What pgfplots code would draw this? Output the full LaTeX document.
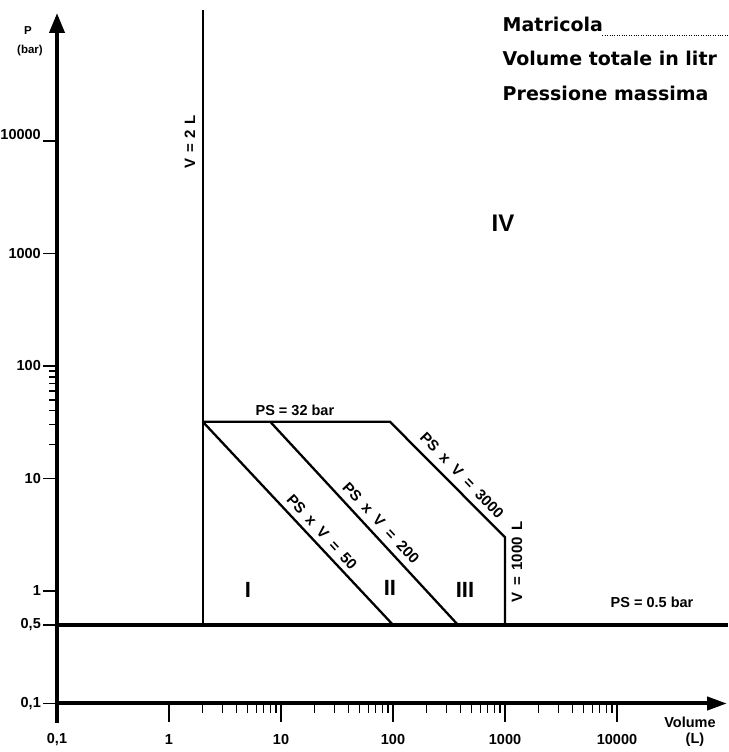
\documentclass[border=0pt]{standalone}
\usepackage{fontspec}
\setmainfont{Liberation Sans}
\newfontfamily\hdr{DejaVu Sans}
\usepackage{pgfplots}
\pgfplotsset{compat=1.18}
\usetikzlibrary{arrows.meta}
\newcommand\lab{\fontsize{14.5}{17}\selectfont\bfseries}
\newcommand\dlab{\fontsize{15}{17}\selectfont\bfseries}
\newcommand\reg{\fontsize{22}{26}\selectfont\bfseries}
\begin{document}
\begin{tikzpicture}
\begin{axis}[name=ax, at={(0,0)}, anchor=south west, scale only axis,
  width=728pt, height=752pt, xmode=log, ymode=log,
  xmin=0.030977, xmax=97965, ymin=0.037059, ymax=179196,
  hide axis, clip=false]
% axes
\draw[line width=4pt] (axis cs:0.1,0.0671) -- (axis cs:0.1,0.12);
\draw[line width=4pt, -{Triangle[length=20pt,width=15pt]}] (axis cs:0.1,0.1) -- (axis cs:0.1,137300);
\draw[line width=4pt, -{Triangle[length=20pt,width=13pt]}] (axis cs:0.1,0.1) -- (axis cs:96000,0.1);
% x ticks
\pgfplotsinvokeforeach{1,10,100,1000,10000}{\draw[line width=1.5pt] (axis cs:#1,0.1) -- (axis cs:#1,0.0685);}
\pgfplotsinvokeforeach{2,3,4,5,6,7,8,9,20,30,40,50,60,70,80,90,200,300,400,500,600,700,800,900,2000,3000,4000,5000,6000,7000,8000,9000}{\draw[line width=1.3pt] (axis cs:#1,0.1) -- (axis cs:#1,0.0823);}
% y ticks
\pgfplotsinvokeforeach{0.1,0.5,1,10,100,1000,10000}{\draw[line width=1.5pt] (axis cs:0.1,#1) -- (axis cs:0.075,#1);}
\pgfplotsinvokeforeach{20,30,40,50,60,70,80,90}{\draw[line width=1.3pt] (axis cs:0.1,#1) -- (axis cs:0.0848,#1);}
% x tick labels
\node[font=\lab] at (axis cs:0.1,0.04738) {0,1};
\node[font=\lab] at (axis cs:1,0.04738) {1};
\node[font=\lab] at (axis cs:10,0.04738) {10};
\node[font=\lab] at (axis cs:100,0.04738) {100};
\node[font=\lab] at (axis cs:1000,0.04738) {1000};
\node[font=\lab] at (axis cs:10000,0.04738) {10000};
\node[font=\lab] at (axis cs:44870,0.0685) {Volume};
\node[font=\lab] at (axis cs:49700,0.04738) {(L)};
% y tick labels
\node[font=\lab, anchor=east, inner sep=0pt] at (axis cs:0.072,0.1) {0,1};
\node[font=\lab, anchor=east, inner sep=0pt] at (axis cs:0.072,0.5) {0,5};
\node[font=\lab, anchor=east, inner sep=0pt] at (axis cs:0.072,1) {1};
\node[font=\lab, anchor=east, inner sep=0pt] at (axis cs:0.072,10) {10};
\node[font=\lab, anchor=east, inner sep=0pt] at (axis cs:0.072,100) {100};
\node[font=\lab, anchor=east, inner sep=0pt] at (axis cs:0.072,1000) {1000};
\node[font=\lab, anchor=east, inner sep=0pt] at (axis cs:0.072,11500) {10000};
\node[font=\fontsize{11.5}{13}\selectfont\bfseries] at (axis cs:0.0551,95060) {P};
\node[font=\fontsize{11.5}{13}\selectfont\bfseries] at (axis cs:0.0574,63096) {(bar)};
% diagram lines
\addplot[line width=4.5pt] coordinates {(0.1,0.5) (97965,0.5)};
\addplot[line width=2.3pt] coordinates {(2,145900) (2,0.5)};
\addplot[line width=2.3pt] coordinates {(2,32) (93.75,32) (1000,3) (1000,0.5)};
\addplot[line width=2.3pt] coordinates {(2,32) (100,0.5)};
\addplot[line width=2.3pt] coordinates {(8,32) (380,0.5)};
% diagram labels
\node[font=\dlab, rotate=90] at (axis cs:1.54,9795) {V\hspace{5.5pt}=\hspace{5.5pt}2\hspace{5.5pt}L};
\node[font=\lab] at (axis cs:13.3,40.6) {PS = 32 bar};
\node[font=\dlab, rotate=-46] at (axis cs:413,10.7) {PS\hspace{8pt}x\hspace{8pt}V\hspace{8pt}=\hspace{8pt}3000};
\node[font=\dlab, rotate=-47] at (axis cs:78.1,4.02) {PS\hspace{8pt}x\hspace{8pt}V\hspace{8pt}=\hspace{8pt}200};
\node[font=\dlab, rotate=-47.5] at (axis cs:23.2,3.35) {PS\hspace{8pt}x\hspace{8pt}V\hspace{8pt}=\hspace{8pt}50};
\node[font=\dlab, rotate=90] at (axis cs:1280,1.81) {V\hspace{6.5pt}=\hspace{6.5pt}1000\hspace{6.5pt}L};
\node[font=\lab] at (axis cs:20540,0.798) {PS = 0.5 bar};
\node[font=\reg] at (axis cs:5.07,1.02) {I};
\node[font=\reg] at (axis cs:94,1.06) {II};
\node[font=\reg] at (axis cs:439.5,1.02) {III};
\node[font=\fontsize{24}{28}\selectfont\bfseries] at (axis cs:959.6,1866) {IV};
% header
\node[font=\hdr\fontsize{19}{22}\selectfont\bfseries, anchor=west, inner sep=0pt] at (axis cs:950,109650) {Matricola};
\draw[line width=0.8pt, dash pattern=on 0.8pt off 1.6pt] (axis cs:7400,86000) -- (axis cs:97965,86000);
\node[font=\hdr\fontsize{19}{22}\selectfont\bfseries, anchor=west, inner sep=0pt] at (axis cs:950,54680) {Volume totale in litr};
\node[font=\hdr\fontsize{19}{22}\selectfont\bfseries, anchor=west, inner sep=0pt] at (axis cs:950,26710) {Pressione massima};
\end{axis}
\pgfresetboundingbox
\useasboundingbox (ax.south west) rectangle (ax.north east);
\end{tikzpicture}
\end{document}
